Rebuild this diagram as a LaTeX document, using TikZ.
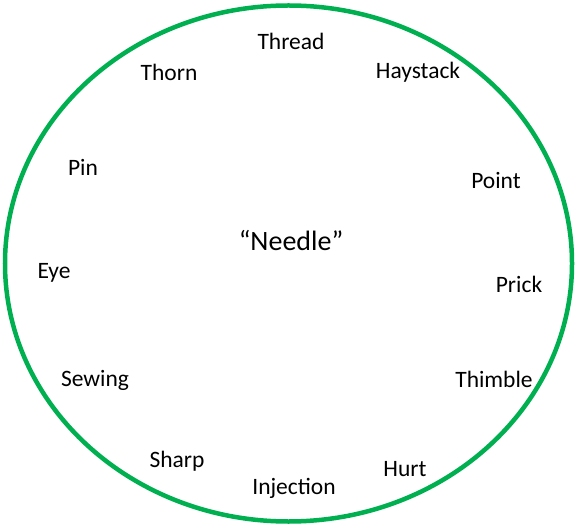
\documentclass[tikz,border=0pt]{standalone}
\usepackage{fontspec}
\setmainfont{Carlito}
\definecolor{ringgreen}{HTML}{00B050}
\begin{document}
\begin{tikzpicture}[x=1pt,y=-1pt,
  word/.style={font=\fontsize{23.5}{27}\selectfont, inner sep=0pt},
  bigword/.style={font=\fontsize{28}{32}\selectfont, inner sep=0pt}]
\useasboundingbox (0,0) rectangle (575,526);
\draw[ringgreen, line width=4.5pt] (288.5,263.5) ellipse [x radius=283.5, y radius=258];
\node[word] (thread) at (291,41) {Thread};
\node[word] (thorn) at (169,72) {Thorn};
\node[word] (haystack) at (418,72) {Haystack};
\node[word] (pin) at (83,167) {Pin};
\node[word] (point) at (496,181) {Point};
\node[bigword] (needle) at (291,241) {“Needle”};
\node[word] (eye) at (54,273) {Eye};
\node[word] (prick) at (519,284) {Prick};
\node[word] (sewing) at (95,380) {Sewing};
\node[word] (thimble) at (494,379) {Thimble};
\node[word] (sharp) at (177,461) {Sharp};
\node[word] (hurt) at (405,469) {Hurt};
\node[word] (injection) at (294,488) {Injection};
\end{tikzpicture}
\end{document}
